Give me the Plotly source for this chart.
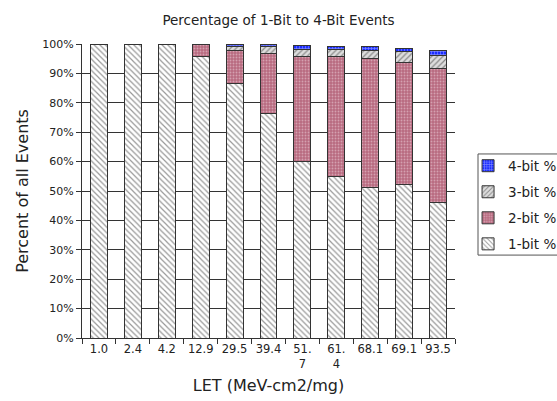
import plotly.graph_objects as go

categories = ["1.0", "2.4", "4.2", "12.9", "29.5", "39.4", "51.<br>7", "61.<br>4", "68.1", "69.1", "93.5"]
bit1 = [99.9, 99.7, 99.8, 95.6, 86.4, 76.5, 60.2, 55.0, 51.2, 52.3, 46.0]
bit2 = [0.1, 0.3, 0.2, 4.2, 11.4, 20.3, 35.6, 40.7, 43.8, 41.5, 45.7]
bit3 = [0.0, 0.0, 0.0, 0.1, 1.2, 2.3, 2.3, 2.5, 2.9, 3.5, 4.5]
bit4 = [0.0, 0.0, 0.0, 0.0, 0.9, 0.8, 1.4, 1.1, 1.3, 1.2, 1.5]
yticks = [0, 10, 20, 30, 40, 50, 60, 70, 80, 90, 100]

line = dict(color="#333333", width=1)
fig = go.Figure()
fig.add_trace(go.Bar(x=categories, y=bit1, name="1-bit %", legendgroup="g1", legendrank=4,
                     marker=dict(color="white", line=line,
                                 pattern=dict(shape="\\", fgcolor="#333333", bgcolor="white", size=4, solidity=0.3))))
fig.add_trace(go.Bar(x=categories, y=bit2, name="2-bit %", legendgroup="g2", legendrank=3,
                     marker=dict(color="#b86a80", line=line,
                                 pattern=dict(shape=".", fgcolor="#f0d8e0", bgcolor="#b86a80", size=3, solidity=0.3))))
fig.add_trace(go.Bar(x=categories, y=bit3, name="3-bit %", legendgroup="g3", legendrank=2,
                     marker=dict(color="#d0d0d0", line=line,
                                 pattern=dict(shape="/", fgcolor="#333333", bgcolor="#dddddd", size=4, solidity=0.3))))
fig.add_trace(go.Bar(x=categories, y=bit4, name="4-bit %", legendgroup="g4", legendrank=1,
                     marker=dict(color="#2030ff", line=line,
                                 pattern=dict(shape="+", fgcolor="white", bgcolor="#1a2cff", size=3, solidity=0.35))))

fig.update_layout(
    width=557, height=401,
    barmode="stack", bargap=0.5,
    paper_bgcolor="white", plot_bgcolor="white",
    font=dict(family="DejaVu Sans", color="#222222", size=11),
    margin=dict(l=82, r=102, t=44, b=63, autoexpand=False),
    title=dict(text="Percentage of 1-Bit to 4-Bit Events", x=0.5, xanchor="center",
               y=0.95, yanchor="middle", font=dict(size=13.5, color="#222222")),
    legend=dict(traceorder="grouped", x=1.035, xanchor="left", y=0.638, yanchor="top",
                borderwidth=0, font=dict(size=13.5),
                itemwidth=30, tracegroupgap=5.5, bgcolor="rgba(0,0,0,0)"),
    shapes=[dict(type="rect", xref="paper", yref="paper", x0=1.0617, x1=1.3, y0=0.282, y1=0.626,
                 line=dict(color="#555555", width=1), fillcolor="rgba(0,0,0,0)", layer="below")],
    xaxis=dict(type="category", tickson="boundaries", ticks="outside", ticklen=5, tickangle=0,
               tickcolor="#333333", showline=True, linecolor="#333333", linewidth=1,
               tickfont=dict(size=11.5), showgrid=False,
               title=dict(text="LET (MeV-cm2/mg)", font=dict(size=16), standoff=10)),
    yaxis=dict(range=[0, 100], tickvals=yticks, ticktext=[f"{v}%" for v in yticks],
               ticks="outside", ticklen=5, tickcolor="#333333",
               showline=True, linecolor="#333333", linewidth=1,
               showgrid=True, gridcolor="#333333", gridwidth=1,
               tickfont=dict(size=11),
               title=dict(text="Percent of all Events", font=dict(size=16), standoff=9)),
)

fig.write_html("out.html")
